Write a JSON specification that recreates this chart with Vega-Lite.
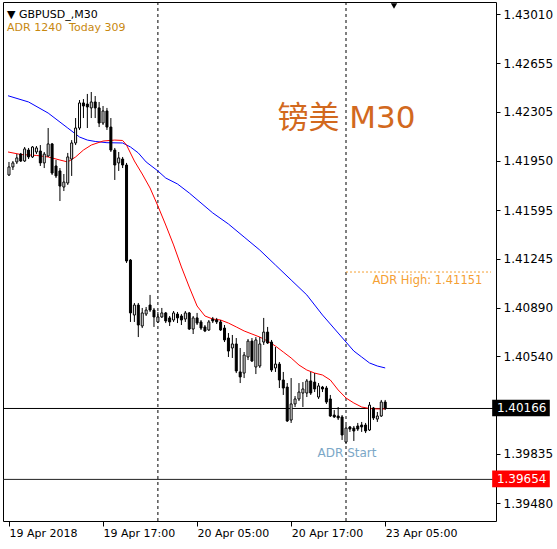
{
  "$schema": "https://vega.github.io/schema/vega-lite/v6.json",
  "width": 493,
  "height": 519,
  "autosize": "none",
  "padding": {"left": 3, "top": 2, "right": 61, "bottom": 28},
  "background": "white",
  "config": {
    "view": {"stroke": "black", "strokeWidth": 1},
    "font": "DejaVu Sans",
    "axis": {"labelFont": "DejaVu Sans", "labelFontSize": 11, "labelColor": "black", "tickColor": "black", "grid": false, "domain": false}
  },
  "title": {
    "text": "▼ GBPUSD_,M30",
    "subtitle": "ADR 1240\u00a0\u00a0Today 309",
    "anchor": "start",
    "frame": "group",
    "orient": "top",
    "offset": -31,
    "dx": 4,
    "font": "DejaVu Sans",
    "fontSize": 11,
    "fontWeight": "normal",
    "color": "black",
    "subtitleFont": "DejaVu Sans",
    "subtitleFontSize": 11,
    "subtitleColor": "#C8880F",
    "subtitlePadding": 2
  },
  "datasets": {
    "candles": [
      {"i":0,"o":1.41848,"h":1.41942,"l":1.41841,"c":1.41906},
      {"i":1,"o":1.41906,"h":1.41949,"l":1.41884,"c":1.41935},
      {"i":2,"o":1.41942,"h":1.41999,"l":1.41927,"c":1.41971},
      {"i":3,"o":1.41999,"h":1.42007,"l":1.41942,"c":1.41949},
      {"i":4,"o":1.41949,"h":1.42050,"l":1.41942,"c":1.42036},
      {"i":5,"o":1.42028,"h":1.42043,"l":1.41963,"c":1.41978},
      {"i":6,"o":1.41978,"h":1.42057,"l":1.41971,"c":1.42050},
      {"i":7,"o":1.42014,"h":1.42057,"l":1.41999,"c":1.42043},
      {"i":8,"o":1.42021,"h":1.42064,"l":1.41913,"c":1.41935},
      {"i":9,"o":1.41935,"h":1.42014,"l":1.41898,"c":1.41999},
      {"i":10,"o":1.41985,"h":1.42187,"l":1.41978,"c":1.42072},
      {"i":11,"o":1.42072,"h":1.42079,"l":1.41848,"c":1.41862},
      {"i":12,"o":1.41913,"h":1.41956,"l":1.41826,"c":1.41841},
      {"i":13,"o":1.41877,"h":1.41898,"l":1.41660,"c":1.41768},
      {"i":14,"o":1.41761,"h":1.41855,"l":1.41732,"c":1.41797},
      {"i":15,"o":1.41790,"h":1.42007,"l":1.41776,"c":1.41978},
      {"i":16,"o":1.41963,"h":1.42100,"l":1.41841,"c":1.42079},
      {"i":17,"o":1.42079,"h":1.42259,"l":1.42064,"c":1.42187},
      {"i":18,"o":1.42187,"h":1.42389,"l":1.42173,"c":1.42368},
      {"i":19,"o":1.42368,"h":1.42396,"l":1.42259,"c":1.42346},
      {"i":20,"o":1.42360,"h":1.42433,"l":1.42187,"c":1.42339},
      {"i":21,"o":1.42332,"h":1.42447,"l":1.42259,"c":1.42375},
      {"i":22,"o":1.42375,"h":1.42418,"l":1.42259,"c":1.42332},
      {"i":23,"o":1.42332,"h":1.42375,"l":1.42194,"c":1.42223},
      {"i":24,"o":1.42223,"h":1.42346,"l":1.42209,"c":1.42310},
      {"i":25,"o":1.42310,"h":1.42332,"l":1.42173,"c":1.42194},
      {"i":26,"o":1.42194,"h":1.42259,"l":1.42014,"c":1.42028},
      {"i":27,"o":1.42028,"h":1.42043,"l":1.41812,"c":1.41920},
      {"i":28,"o":1.41935,"h":1.42014,"l":1.41877,"c":1.41971},
      {"i":29,"o":1.41963,"h":1.41978,"l":1.41898,"c":1.41920},
      {"i":30,"o":1.41920,"h":1.41935,"l":1.41213,"c":1.41227},
      {"i":31,"o":1.41234,"h":1.41241,"l":1.40787,"c":1.40852},
      {"i":32,"o":1.40837,"h":1.40924,"l":1.40787,"c":1.40909},
      {"i":33,"o":1.40909,"h":1.40924,"l":1.40678,"c":1.40765},
      {"i":34,"o":1.40758,"h":1.40888,"l":1.40743,"c":1.40852},
      {"i":35,"o":1.40844,"h":1.40895,"l":1.40830,"c":1.40873},
      {"i":36,"o":1.40909,"h":1.40982,"l":1.40859,"c":1.40873},
      {"i":37,"o":1.40873,"h":1.40888,"l":1.40751,"c":1.40823},
      {"i":38,"o":1.40787,"h":1.40859,"l":1.40779,"c":1.40823},
      {"i":39,"o":1.40823,"h":1.40888,"l":1.40816,"c":1.40852},
      {"i":40,"o":1.40852,"h":1.40859,"l":1.40779,"c":1.40794},
      {"i":41,"o":1.40816,"h":1.40830,"l":1.40758,"c":1.40787},
      {"i":42,"o":1.40801,"h":1.40866,"l":1.40787,"c":1.40852},
      {"i":43,"o":1.40844,"h":1.40859,"l":1.40779,"c":1.40816},
      {"i":44,"o":1.40830,"h":1.40844,"l":1.40765,"c":1.40801},
      {"i":45,"o":1.40808,"h":1.40866,"l":1.40787,"c":1.40852},
      {"i":46,"o":1.40852,"h":1.40859,"l":1.40729,"c":1.40736},
      {"i":47,"o":1.40736,"h":1.40830,"l":1.40700,"c":1.40816},
      {"i":48,"o":1.40816,"h":1.40852,"l":1.40765,"c":1.40779},
      {"i":49,"o":1.40787,"h":1.40801,"l":1.40729,"c":1.40743},
      {"i":50,"o":1.40751,"h":1.40765,"l":1.40714,"c":1.40722},
      {"i":51,"o":1.40729,"h":1.40801,"l":1.40722,"c":1.40787},
      {"i":52,"o":1.40808,"h":1.40823,"l":1.40779,"c":1.40794},
      {"i":53,"o":1.40801,"h":1.40816,"l":1.40772,"c":1.40787},
      {"i":54,"o":1.40787,"h":1.40801,"l":1.40722,"c":1.40729},
      {"i":55,"o":1.40743,"h":1.40765,"l":1.40642,"c":1.40657},
      {"i":56,"o":1.40671,"h":1.40707,"l":1.40534,"c":1.40577},
      {"i":57,"o":1.40599,"h":1.40693,"l":1.40527,"c":1.40628},
      {"i":58,"o":1.40628,"h":1.40671,"l":1.40418,"c":1.40433},
      {"i":59,"o":1.40426,"h":1.40599,"l":1.40346,"c":1.40390},
      {"i":60,"o":1.40418,"h":1.40570,"l":1.40382,"c":1.40548},
      {"i":61,"o":1.40534,"h":1.40664,"l":1.40512,"c":1.40649},
      {"i":62,"o":1.40649,"h":1.40671,"l":1.40498,"c":1.40505},
      {"i":63,"o":1.40462,"h":1.40678,"l":1.40411,"c":1.40657},
      {"i":64,"o":1.40469,"h":1.40678,"l":1.40455,"c":1.40628},
      {"i":65,"o":1.40642,"h":1.40816,"l":1.40621,"c":1.40714},
      {"i":66,"o":1.40714,"h":1.40751,"l":1.40628,"c":1.40635},
      {"i":67,"o":1.40642,"h":1.40657,"l":1.40426,"c":1.40440},
      {"i":68,"o":1.40455,"h":1.40606,"l":1.40426,"c":1.40483},
      {"i":69,"o":1.40483,"h":1.40498,"l":1.40310,"c":1.40368},
      {"i":70,"o":1.40368,"h":1.40426,"l":1.40260,"c":1.40310},
      {"i":71,"o":1.40317,"h":1.40346,"l":1.40065,"c":1.40072},
      {"i":72,"o":1.40079,"h":1.40382,"l":1.40058,"c":1.40195},
      {"i":73,"o":1.40195,"h":1.40252,"l":1.40173,"c":1.40231},
      {"i":74,"o":1.40231,"h":1.40346,"l":1.40216,"c":1.40281},
      {"i":75,"o":1.40274,"h":1.40353,"l":1.40173,"c":1.40303},
      {"i":76,"o":1.40274,"h":1.40375,"l":1.40245,"c":1.40361},
      {"i":77,"o":1.40361,"h":1.40426,"l":1.40260,"c":1.40274},
      {"i":78,"o":1.40353,"h":1.40418,"l":1.40281,"c":1.40303},
      {"i":79,"o":1.40245,"h":1.40346,"l":1.40231,"c":1.40325},
      {"i":80,"o":1.40317,"h":1.40325,"l":1.40281,"c":1.40303},
      {"i":81,"o":1.40310,"h":1.40325,"l":1.40195,"c":1.40209},
      {"i":82,"o":1.40231,"h":1.40260,"l":1.40101,"c":1.40108},
      {"i":83,"o":1.40115,"h":1.40151,"l":1.40094,"c":1.40101},
      {"i":84,"o":1.40108,"h":1.40173,"l":1.40079,"c":1.40094},
      {"i":85,"o":1.40101,"h":1.40115,"l":1.39935,"c":1.39971},
      {"i":86,"o":1.39920,"h":1.40043,"l":1.39906,"c":1.40021},
      {"i":87,"o":1.40029,"h":1.40036,"l":1.39993,"c":1.40014},
      {"i":88,"o":1.40021,"h":1.40036,"l":1.39928,"c":1.40000},
      {"i":89,"o":1.40036,"h":1.40058,"l":1.40000,"c":1.40014},
      {"i":90,"o":1.40043,"h":1.40065,"l":1.39993,"c":1.40029},
      {"i":91,"o":1.40043,"h":1.40058,"l":1.39985,"c":1.40000},
      {"i":92,"o":1.40007,"h":1.40209,"l":1.40000,"c":1.40187},
      {"i":93,"o":1.40166,"h":1.40173,"l":1.40079,"c":1.40094},
      {"i":94,"o":1.40086,"h":1.40137,"l":1.40065,"c":1.40108},
      {"i":95,"o":1.40108,"h":1.40224,"l":1.40101,"c":1.40209},
      {"i":96,"o":1.40209,"h":1.40224,"l":1.40151,"c":1.40166}
    ],
    "maSlow": [
      {"i":-0.25,"v":1.42420},{"i":5,"v":1.42375},{"i":10,"v":1.42295},{"i":15,"v":1.42187},
      {"i":18,"v":1.42122},{"i":20,"v":1.42100},{"i":22,"v":1.42090},{"i":25,"v":1.42081},
      {"i":29,"v":1.42079},{"i":31,"v":1.42050},{"i":33,"v":1.42007},{"i":35,"v":1.41942},
      {"i":38,"v":1.41877},{"i":40,"v":1.41826},{"i":43,"v":1.41783},{"i":46,"v":1.41718},
      {"i":49,"v":1.41646},{"i":52,"v":1.41574},{"i":56,"v":1.41494},{"i":60,"v":1.41400},
      {"i":64,"v":1.41306},{"i":68,"v":1.41198},{"i":72,"v":1.41090},{"i":76,"v":1.40982},
      {"i":80,"v":1.40837},{"i":84,"v":1.40707},{"i":86,"v":1.40642},{"i":88,"v":1.40577},
      {"i":90,"v":1.40534},{"i":92,"v":1.40491},{"i":94,"v":1.40469},{"i":96,"v":1.40455}
    ],
    "maFast": [
      {"i":-0.25,"v":1.42014},{"i":3,"v":1.41996},{"i":7,"v":1.41989},{"i":10,"v":1.41978},
      {"i":13,"v":1.41956},{"i":15,"v":1.41942},{"i":17,"v":1.41978},{"i":19,"v":1.42028},
      {"i":21,"v":1.42064},{"i":24,"v":1.42093},{"i":27,"v":1.42100},{"i":29,"v":1.42097},
      {"i":30,"v":1.42064},{"i":32,"v":1.41949},{"i":34,"v":1.41855},{"i":36,"v":1.41754},
      {"i":38,"v":1.41624},{"i":40,"v":1.41487},{"i":42,"v":1.41343},{"i":44,"v":1.41184},
      {"i":46,"v":1.41039},{"i":48,"v":1.40902},{"i":50,"v":1.40830},{"i":52,"v":1.40808},
      {"i":54,"v":1.40801},{"i":56,"v":1.40779},{"i":58,"v":1.40751},{"i":60,"v":1.40722},
      {"i":62,"v":1.40700},{"i":64,"v":1.40678},{"i":66,"v":1.40649},{"i":68,"v":1.40613},
      {"i":70,"v":1.40570},{"i":72,"v":1.40527},{"i":74,"v":1.40476},{"i":76,"v":1.40440},
      {"i":78,"v":1.40418},{"i":80,"v":1.40404},{"i":82,"v":1.40368},{"i":84,"v":1.40296},
      {"i":86,"v":1.40238},{"i":88,"v":1.40202},{"i":90,"v":1.40173},{"i":92,"v":1.40162},
      {"i":94,"v":1.40159},{"i":96,"v":1.40159}
    ]
  },
  "layer": [
    {
      "data": {"values": [{"i": 38}, {"i": 86}]},
      "mark": {"type": "rule", "color": "black", "strokeWidth": 1, "strokeDash": [3, 3]},
      "encoding": {
        "x": {"field": "i", "type": "quantitative",
          "scale": {"domain": [-0.25, 123], "nice": false, "zero": false},
          "axis": {"values": [0, 24, 48, 72, 96], "title": null, "tickSize": 5, "labelAlign": "left", "labelPadding": 1, "labelDx": 1,
            "labelExpr": "datum.value == 0 ? '19 Apr 2018' : datum.value == 24 ? '19 Apr 17:00' : datum.value == 48 ? '20 Apr 05:00' : datum.value == 72 ? '20 Apr 17:00' : '23 Apr 05:00'"}}
      }
    },
    {
      "data": {"values": [{"from": 86, "to": 123, "p": 1.41151}]},
      "mark": {"type": "rule", "color": "#F5A033", "strokeWidth": 1, "strokeDash": [2, 2], "yOffset": 0.5},
      "encoding": {
        "x": {"field": "from", "type": "quantitative"},
        "x2": {"field": "to"},
        "y": {"field": "p", "type": "quantitative",
          "scale": {"domain": [1.393501, 1.430967], "nice": false, "zero": false},
          "axis": {"orient": "right", "title": null, "format": ".5f", "tickSize": 4, "labelPadding": 3, "labelFontSize": 12,
            "values": [1.43010, 1.42655, 1.42305, 1.41950, 1.41595, 1.41245, 1.40890, 1.40540, 1.39835, 1.39480]}}
      }
    },
    {
      "data": {"values": [{"p": 1.40166, "k": "bid"}, {"p": 1.39654, "k": "low"}]},
      "mark": {"type": "rule", "strokeWidth": 1, "yOffset": 0.5},
      "encoding": {
        "y": {"field": "p", "type": "quantitative"},
        "color": {"field": "k", "type": "nominal", "scale": {"domain": ["bid", "low"], "range": ["black", "#222222"]}, "legend": null}
      }
    },
    {
      "data": {"name": "maSlow"},
      "mark": {"type": "line", "color": "#0000FF", "strokeWidth": 1},
      "encoding": {
        "x": {"field": "i", "type": "quantitative"},
        "y": {"field": "v", "type": "quantitative"}
      }
    },
    {
      "data": {"name": "maFast"},
      "mark": {"type": "line", "color": "#FF0000", "strokeWidth": 1},
      "encoding": {
        "x": {"field": "i", "type": "quantitative"},
        "y": {"field": "v", "type": "quantitative"}
      }
    },
    {
      "data": {"name": "candles"},
      "mark": {"type": "rule", "color": "black", "strokeWidth": 1},
      "encoding": {
        "x": {"field": "i", "type": "quantitative"},
        "y": {"field": "l", "type": "quantitative"},
        "y2": {"field": "h"}
      }
    },
    {
      "data": {"name": "candles"},
      "mark": {"type": "bar", "size": 2, "stroke": "black", "strokeWidth": 1},
      "encoding": {
        "x": {"field": "i", "type": "quantitative"},
        "y": {"field": "o", "type": "quantitative"},
        "y2": {"field": "c"},
        "fill": {"condition": {"test": "datum.c > datum.o", "value": "white"}, "value": "black"}
      }
    },
    {
      "data": {"values": [{"label": "镑美 M30"}]},
      "mark": {"type": "text", "font": "DejaVu Sans, Noto Sans CJK SC", "fontSize": 31, "color": "#D2691E", "align": "left", "baseline": "middle"},
      "encoding": {"x": {"datum": 68.5, "type": "quantitative"}, "y": {"datum": 1.42252, "type": "quantitative"}, "text": {"field": "label"}}
    },
    {
      "data": {"values": [{"label": "ADR High: 1.41151"}]},
      "mark": {"type": "text", "font": "DejaVu Sans", "fontSize": 11.5, "color": "#F5A033", "align": "left", "baseline": "middle"},
      "encoding": {"x": {"datum": 92.75, "type": "quantitative"}, "y": {"datum": 1.41083, "type": "quantitative"}, "text": {"field": "label"}}
    },
    {
      "data": {"values": [{"label": "ADR Start"}]},
      "mark": {"type": "text", "font": "DejaVu Sans", "fontSize": 12, "color": "#7BA7C7", "align": "left", "baseline": "middle"},
      "encoding": {"x": {"datum": 78.75, "type": "quantitative"}, "y": {"datum": 1.39841, "type": "quantitative"}, "text": {"field": "label"}}
    },
    {
      "data": {"values": [{"k": "shift"}]},
      "mark": {"type": "point", "shape": "triangle-down", "filled": true, "color": "black", "size": 40, "opacity": 1},
      "encoding": {"x": {"datum": 98.25, "type": "quantitative"}, "y": {"datum": 1.43068, "type": "quantitative"}}
    },
    {
      "data": {"values": [{"p": 1.40166, "k": "bid"}, {"p": 1.39654, "k": "low"}]},
      "transform": [{"calculate": "datum.p - 0.00060", "as": "lo"}, {"calculate": "datum.p + 0.00060", "as": "hi"}],
      "mark": {"type": "rect", "clip": false},
      "encoding": {
        "x": {"datum": 123.3, "type": "quantitative"},
        "x2": {"datum": 138.0},
        "y": {"field": "lo", "type": "quantitative"},
        "y2": {"field": "hi"},
        "fill": {"field": "k", "type": "nominal", "scale": {"domain": ["bid", "low"], "range": ["black", "#FF0000"]}, "legend": null}
      }
    },
    {
      "data": {"values": [{"p": 1.40166}, {"p": 1.39654}]},
      "mark": {"type": "text", "color": "white", "font": "DejaVu Sans", "fontSize": 12, "align": "left", "baseline": "middle", "clip": false},
      "encoding": {
        "x": {"datum": 124.5, "type": "quantitative"},
        "y": {"field": "p", "type": "quantitative"},
        "text": {"field": "p", "type": "quantitative", "format": ".5f"}
      }
    }
  ]
}
